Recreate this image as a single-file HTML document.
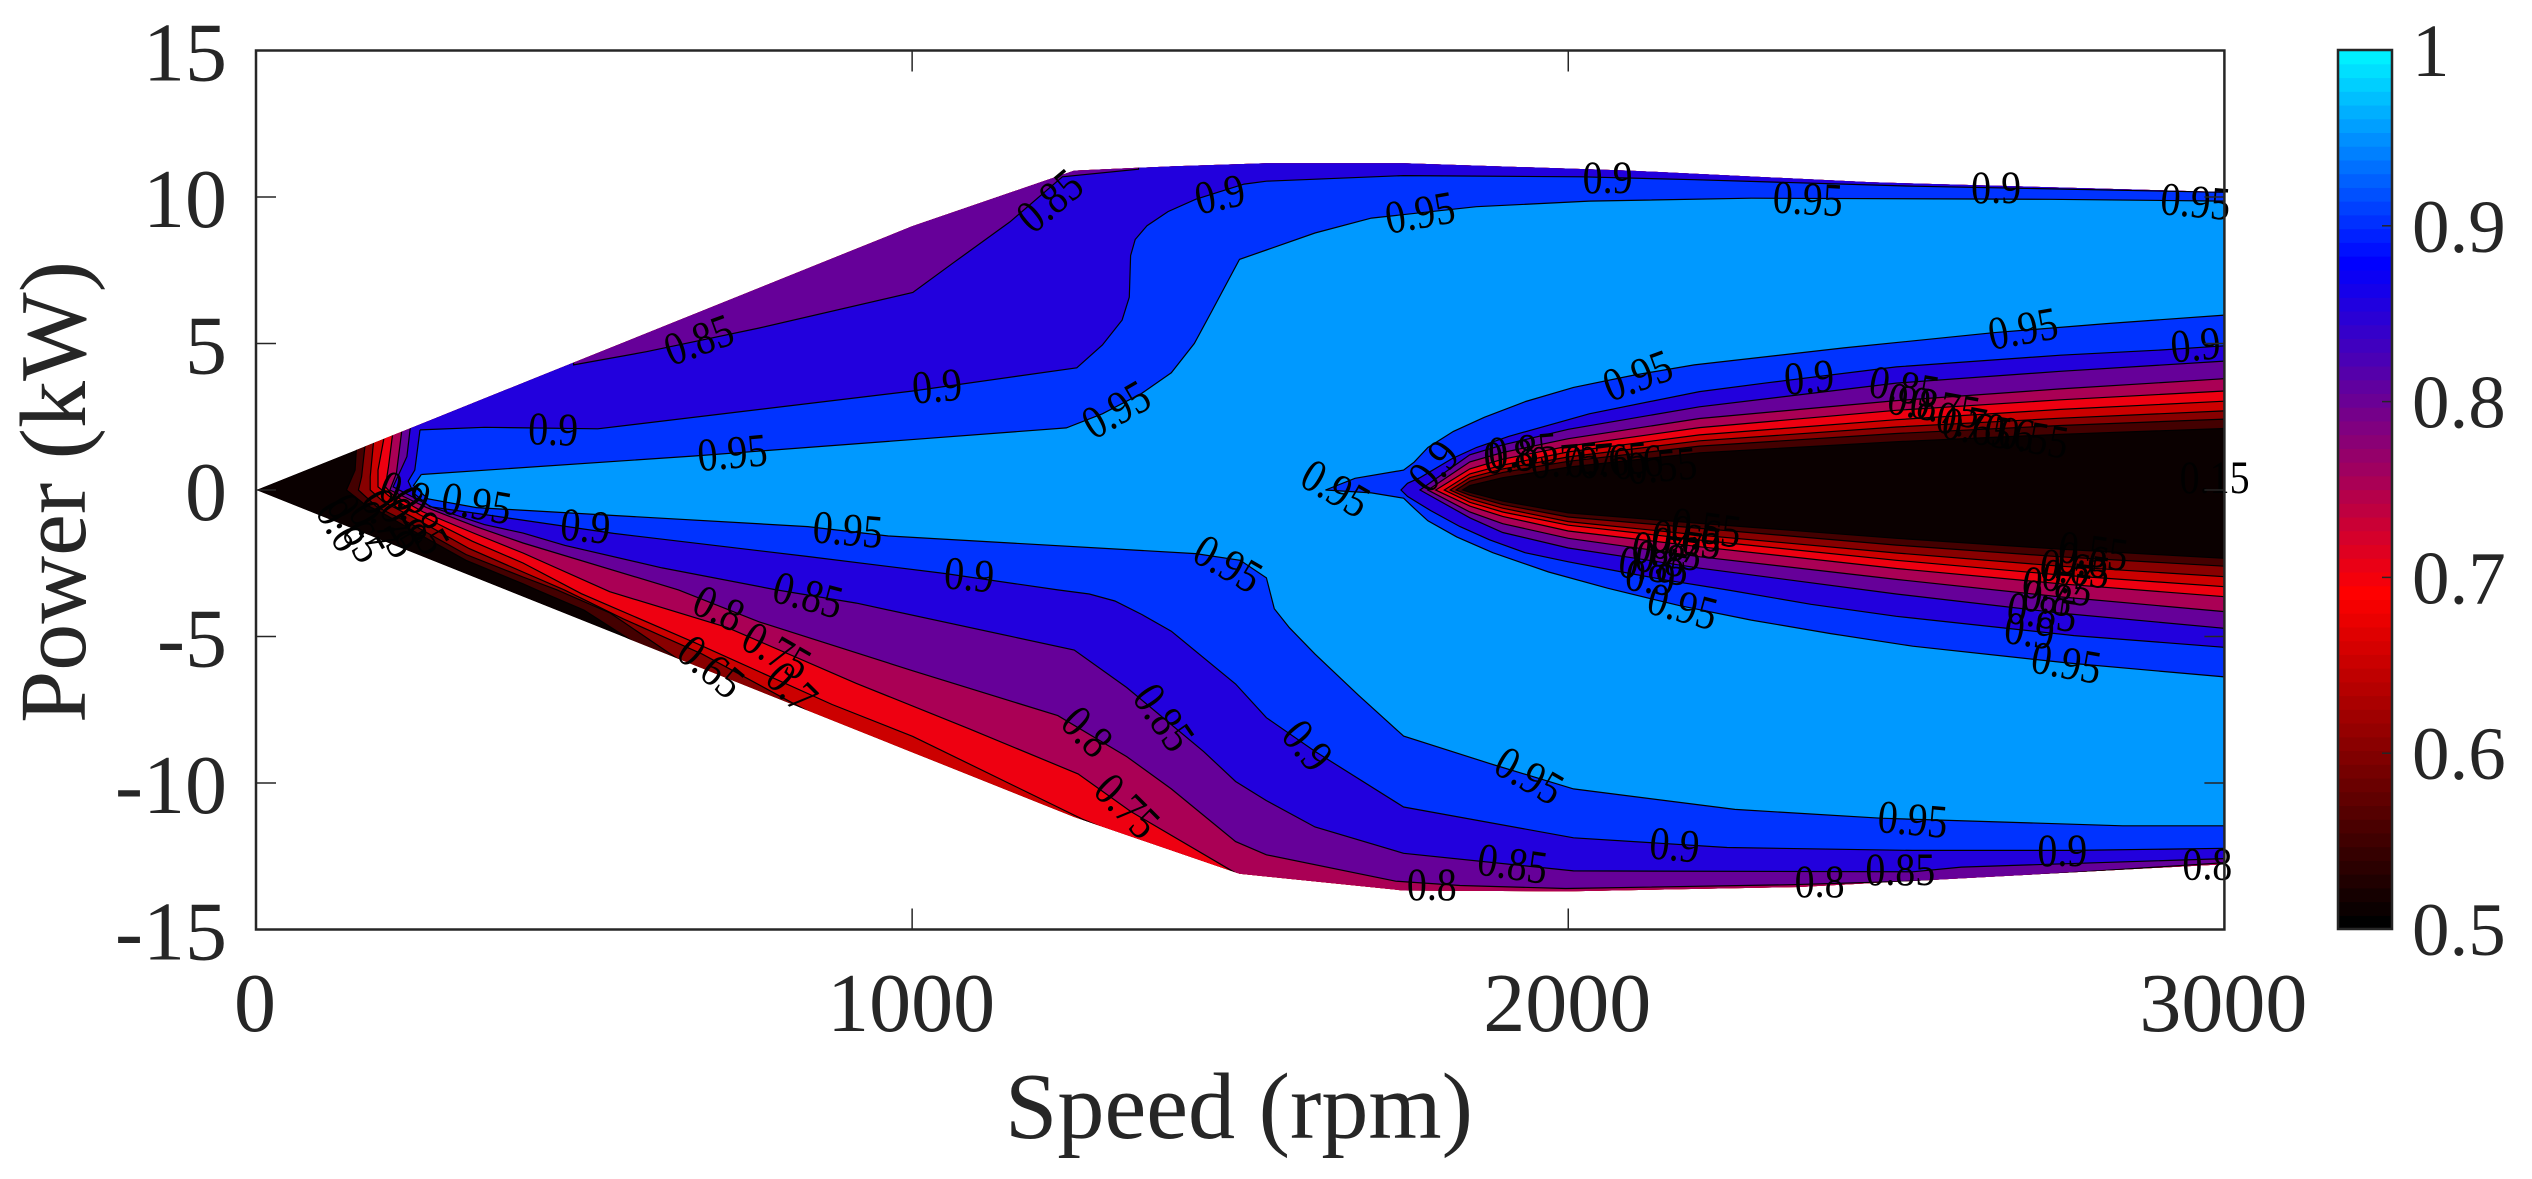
<!DOCTYPE html>
<html lang="en">
<head>
<meta charset="utf-8">
<title>Efficiency map: Power vs Speed</title>
<style>
html,body{margin:0;padding:0;background:#fff;}
svg{display:block;font-family:"Liberation Serif","Times New Roman",serif;}
</style>
</head>
<body>
<svg id="chart" xmlns="http://www.w3.org/2000/svg" width="2532" height="1179" viewBox="0 0 2532 1179">
<rect x="0" y="0" width="2532" height="1179" fill="#ffffff"/>
<defs><clipPath id="envelope-clip"><polygon id="envelope-shape" points="0,0"/></clipPath></defs>
<g id="fills" clip-path="url(#envelope-clip)"></g>
<g id="lines" clip-path="url(#envelope-clip)"></g>
<g id="labels"></g>
<g id="axes"></g>
<g id="colorbar"></g>
<text x="1239" y="1138" font-size="94" text-anchor="middle" fill="#262626" textLength="468" lengthAdjust="spacingAndGlyphs">Speed (rpm)</text>
<text transform="translate(85,492) rotate(-90)" font-size="94" text-anchor="middle" fill="#262626" textLength="462" lengthAdjust="spacingAndGlyphs">Power (kW)</text>
</svg>
<script>
// Axis tick values
const xTicks = [0, 1000, 2000, 3000];
const yTicks = [15, 10, 5, 0, -5, -10, -15];
const colorbarTicks = [1, 0.9, 0.8, 0.7, 0.6, 0.5];
const colorbarTickText = ['1', '0.9', '0.8', '0.7', '0.6', '0.5'];

// Operating envelope [rpm, kW]
const envelope = [[0,0],[240,2.15],[1000,9],[1247,10.9],[1400,11.05],[1540,11.15],[1750,11.15],[2093,10.9],[2462,10.5],[3000,10.17],[3000,-12.77],[2352,-13.55],[1996,-13.7],[1749,-13.67],[1499,-13.1],[1247,-11.16],[1000,-8.95],[0,0]];

// Contour level 0.55
const upper55 = [[153,16],[3000,16]];
const lower55 = [[153,16],[153,1.42],[151,0.68],[138,0],[164,-0.46],[194,-0.8],[240,-1.4],[320,-2.4],[407,-3.2],[428,-3.41],[500,-4.1],[580,-5.25],[580,-16],[3000,-16]];
const tongueTop55 = [[1839,0],[1850,0.15],[1900,0.42],[2000,0.78],[2200,1.27],[2500,1.65],[2750,1.9],[3000,2.1]];
const tongueBottom55 = [[1839,0],[1850,-0.08],[1900,-0.38],[2000,-0.78],[2201,-1.14],[2500,-1.65],[2750,-2.02],[3000,-2.33]];
// Contour level 0.6
const upper60 = [[166,16],[3000,16]];
const lower60 = [[166,16],[166,1.48],[161,0.45],[156,0],[184,-0.57],[240,-1.2],[320,-2.2],[407,-2.97],[459,-3.41],[540,-4.2],[644,-5.78],[644,-16],[3000,-16]];
const tongueTop60 = [[1829,0],[1850,0.3],[1900,0.6],[2000,0.98],[2200,1.5],[2500,1.93],[2750,2.2],[3000,2.42]];
const tongueBottom60 = [[1829,0],[1850,-0.18],[1900,-0.5],[2000,-0.92],[2201,-1.31],[2500,-1.88],[2750,-2.28],[3000,-2.6]];
// Contour level 0.65
const upper65 = [[179,16],[3000,16]];
const lower65 = [[179,16],[179,1.59],[174,0.45],[174,0],[194,-0.4],[245,-1],[325,-2],[407,-2.8],[470,-3.41],[560,-4.4],[680,-5.6],[841,-7.55],[841,-16],[3000,-16]];
const tongueTop65 = [[1820,0],[1850,0.42],[1900,0.72],[2000,1.13],[2200,1.68],[2500,2.15],[2750,2.45],[3000,2.7]];
const tongueBottom65 = [[1820,0],[1850,-0.3],[1900,-0.62],[2000,-1.08],[2201,-1.54],[2500,-2.15],[2750,-2.6],[3000,-2.96]];
// Contour level 0.7
const upper70 = [[195,16],[3000,16]];
const lower70 = [[195,16],[195,1.76],[186,0.68],[186,0.11],[204,-0.23],[250,-0.85],[330,-1.75],[407,-2.49],[496,-3.54],[668,-5.2],[878,-7.32],[1001,-8.41],[1259,-11.23],[1309,-11.7],[1309,-16],[3000,-16]];
const tongueTop70 = [[1811,0],[1850,0.55],[1900,0.85],[2000,1.3],[2200,1.88],[2500,2.4],[2750,2.75],[3000,3.03]];
const tongueBottom70 = [[1811,0],[1850,-0.42],[1900,-0.75],[2000,-1.2],[2201,-1.71],[2500,-2.4],[2750,-2.9],[3000,-3.3]];
// Contour level 0.75
const upper75 = [[208,16],[3000,16]];
const lower75 = [[208,16],[208,1.88],[202,0.8],[197,0.11],[209,-0.17],[255,-0.75],[335,-1.5],[407,-2.15],[539,-3.47],[718,-4.69],[915,-6.6],[1087,-8.15],[1253,-9.69],[1333,-10.97],[1499,-13.15],[1520,-13.4],[1520,-16],[3000,-16]];
const tongueTop75 = [[1798,0],[1850,0.72],[1900,1.05],[2000,1.5],[2200,2.13],[2500,2.72],[2750,3.08],[3000,3.38]];
const tongueBottom75 = [[1798,0],[1850,-0.55],[1900,-0.9],[2000,-1.4],[2201,-1.94],[2500,-2.68],[2750,-3.2],[3000,-3.64]];
// Contour level 0.8
const upper80 = [[222,16],[3000,16]];
const lower80 = [[222,16],[222,2],[214,0.57],[204,0],[260,-0.6],[335,-1.25],[407,-1.81],[644,-3.41],[767,-4.5],[1001,-6.17],[1222,-7.7],[1327,-9.1],[1395,-10.2],[1493,-12],[1540,-12.45],[1737,-13.35],[1835,-13.5],[1996,-13.6],[2340,-13.47],[2599,-13.3],[3000,-12.72]];
const tongueTop80 = [[1786,0],[1850,0.96],[1900,1.28],[2000,1.75],[2200,2.44],[2500,3.05],[2750,3.45],[3000,3.8]];
const tongueBottom80 = [[1786,0],[1850,-0.75],[1900,-1.15],[2000,-1.65],[2201,-2.28],[2500,-3.05],[2750,-3.65],[3000,-4.15]];
// Contour level 0.85
const upper85 = [[235,16],[478,16],[484,4.27],[595,4.72],[767,5.53],[1001,6.74],[1062,7.74],[1149,9.15],[1229,10.69],[1345,10.95],[1345,16],[3000,16]];
const lower85 = [[235,16],[235,2.1],[230,1.14],[209,0.11],[270,-0.6],[348,-1.18],[407,-1.47],[471,-1.89],[619,-2.66],[791,-3.4],[915,-3.86],[1247,-5.46],[1327,-6.74],[1444,-8.92],[1493,-9.95],[1540,-10.6],[1614,-11.5],[1749,-12.4],[2008,-13],[2525,-13.03],[2599,-12.87],[3000,-12.58]];
const tongueTop85 = [[1774,0],[1850,1.2],[1900,1.54],[2000,2.07],[2200,2.84],[2500,3.65],[2750,4.05],[3000,4.4]];
const tongueBottom85 = [[1774,0],[1850,-0.95],[1900,-1.45],[2000,-1.98],[2201,-2.67],[2500,-3.55],[2750,-4.2],[3000,-4.72]];
// Contour level 0.9
const upper90 = [[250,2.05],[348,2.14],[521,2.09],[1001,3.38],[1251,4.17],[1290,4.95],[1320,5.8],[1331,6.58],[1333,8],[1340,8.55],[1358,9.02],[1390,9.5],[1432,9.92],[1506,10.44],[1540,10.54],[1749,10.73],[2020,10.69],[2192,10.59],[2525,10.37],[3000,10.16]];
const lower90 = [[250,2.05],[242,0.68],[232,0.3],[240,-0.1],[265,-0.57],[336,-0.8],[545,-1.48],[841,-2.27],[1050,-2.85],[1222,-3.41],[1270,-3.55],[1309,-3.79],[1350,-4.25],[1395,-4.82],[1493,-6.62],[1540,-7.77],[1614,-8.92],[1749,-10.82],[2008,-11.87],[2242,-12.2],[2525,-12.3],[2771,-12.3],[3000,-12.23]];
const tongueTop90 = [[1745,0],[1755,0.23],[1774,0.42],[1823,1.07],[1860,1.45],[1909,1.83],[2032,2.6],[2200,3.36],[2303,3.66],[2500,4.2],[2750,4.6],[2906,4.78],[3000,4.92]];
const tongueBottom90 = [[1745,0],[1755,-0.22],[1790,-0.7],[1835,-1.25],[1880,-1.7],[1934,-2.14],[2000,-2.45],[2082,-2.8],[2150,-3.08],[2242,-3.41],[2370,-3.9],[2500,-4.31],[2771,-4.97],[3000,-5.37]];
// Contour level 0.95
const upper95 = [[252,0.53],[668,1.16],[1235,2.12],[1290,2.6],[1350,3.3],[1395,4],[1430,5],[1456,6.07],[1499,7.87],[1540,8.19],[1614,8.77],[1700,9.28],[1860,9.67],[2032,9.86],[2279,9.96],[2734,9.92],[3000,9.86]];
const lower95 = [[252,0.53],[240,0.15],[262,-0.3],[336,-0.6],[841,-1.25],[964,-1.57],[1432,-2.17],[1500,-2.4],[1540,-3],[1552,-4.05],[1575,-4.7],[1614,-5.6],[1680,-7],[1749,-8.4],[1885,-9.37],[2008,-10.2],[2254,-10.9],[2476,-11.2],[2845,-11.46],[3000,-11.46]];
const tongueTop95 = [[1630,0],[1675,0.4],[1749,0.68],[1765,0.95],[1786,1.45],[1825,2],[1872,2.48],[1935,3.02],[2008,3.5],[2100,3.92],[2192,4.27],[2420,4.85],[2648,5.37],[2820,5.68],[3000,5.97]];
const tongueBottom95 = [[1630,0],[1700,-0.1],[1749,-0.28],[1765,-0.62],[1786,-1.05],[1830,-1.6],[1885,-2.14],[1970,-2.8],[2060,-3.35],[2170,-3.95],[2279,-4.44],[2400,-4.9],[2525,-5.33],[2760,-5.9],[3000,-6.38]];

// Contour levels, painted low to high
const levelValues = [0.55, 0.6, 0.65, 0.7, 0.75, 0.8, 0.85, 0.9, 0.95];
const levelUppers = [upper55, upper60, upper65, upper70, upper75, upper80, upper85, upper90, upper95];
const levelLowers = [lower55, lower60, lower65, lower70, lower75, lower80, lower85, lower90, lower95];
const levelTongueTops = [tongueTop55, tongueTop60, tongueTop65, tongueTop70, tongueTop75, tongueTop80, tongueTop85, tongueTop90, tongueTop95];
const levelTongueBottoms = [tongueBottom55, tongueBottom60, tongueBottom65, tongueBottom70, tongueBottom75, tongueBottom80, tongueBottom85, tongueBottom90, tongueBottom95];

// Inline contour labels: text, rpm, kW, rotation
const labelText = ['0.85','0.85','0.9','0.9','0.95','0.95','0.9','0.95','0.9','0.95','0.9','0.95','0.95','0.9','0.95','0.9','0.85','0.8','0.75','0.7','0.65','0.6','0.55','0.85','0.8','0.75','0.7','0.65','0.6','0.55','0.9','0.95','0.95','0.9','0.85','0.8','0.75','0.7','0.65','0.6','0.55','0.9','0.85','0.8','0.75','0.7','0.65','0.6','0.55','0.95','0.95','0.9','0.95','0.9','0.95','0.85','0.8','0.75','0.65','0.7','0.85','0.8','0.75','0.9','0.95','0.95','0.9','0.9','0.85','0.8','0.8','0.85','0.8','0.15','0.9','0.85','0.8','0.75','0.7','0.65','0.6'];
const labelRpm = [1210,675,453,1038,726,1311,1469,1774,2060,2365,2652,2956,2693,2956,2106,2367,2512,2525,2574,2599,2623,2672,2709,1931,1909,1995,2032,2069,2106,2143,1795,1645,2174,2125,2130,2140,2150,2165,2180,2195,2210,2703,2722,2730,2745,2760,2772,2785,2800,2759,902,502,336,1087,1481,841,705,793,693,816,1383,1266,1327,1602,1940,2525,2162,2753,1915,1792,2383,2506,2974,2985,227,250,225,204,178,152,128];
const labelKw = [9.86,5.11,2.05,3.53,1.26,2.73,10.08,9.45,10.65,9.92,10.31,9.83,5.49,4.94,3.89,3.83,3.5,2.99,2.8,2.35,2.09,1.96,1.77,1.32,1.13,1,1,1,0.94,0.81,0.81,0.04,-3.99,-3,-2.6,-2.35,-2.1,-1.9,-1.7,-1.5,-1.3,-4.82,-4.18,-3.7,-3.3,-3,-2.7,-2.4,-2.1,-5.91,-1.37,-1.25,-0.47,-2.91,-2.53,-3.6,-4.05,-5.5,-6.04,-6.74,-7.77,-8.26,-10.8,-8.73,-9.76,-11.26,-12.13,-12.32,-12.77,-13.47,-13.38,-12.96,-12.77,0.42,-0.11,-1.03,-1.14,-1.14,-1.25,-1.3,-1.2];
const labelAngle = [-40,-20,2,-5,-5,-30,-12,-10,0,3,0,5,-10,-5,-20,-5,10,10,10,10,10,10,10,-5,-5,-5,-5,-5,-5,-5,-50,30,15,8,8,8,8,8,8,8,8,8,8,8,8,8,8,8,8,10,5,5,10,5,30,15,25,30,40,45,55,45,45,50,30,5,5,0,8,0,0,0,0,0,20,60,60,60,60,60,60];

const SVG_NS = 'http://www.w3.org/2000/svg';
const xScale = rpm => 256 + rpm * 1968.4 / 3000;
const yScale = kw => 490 - kw * 29.3;
const colorbarY = v => 50 + (1 - v) * 2 * 879;
const toPoints = pts => pts.map(p => xScale(p[0]).toFixed(1) + ',' + yScale(p[1]).toFixed(1)).join(' ');

function colormap(v) {
  let r = 0, g = 0, b = 0;
  if (v <= 0.6875) { r = (v - 0.5) / 0.1875 * 255; }
  else if (v <= 0.875) { const t = (v - 0.6875) / 0.1875; r = (1 - t) * 255; b = t * 255; }
  else { const t = (v - 0.875) / 0.125; g = t * 255; b = 255; }
  return 'rgb(' + Math.round(r) + ',' + Math.round(g) + ',' + Math.round(b) + ')';
}
function make(tag, attrs, parent) {
  const el = document.createElementNS(SVG_NS, tag);
  for (const k in attrs) el.setAttribute(k, attrs[k]);
  parent.appendChild(el);
  return el;
}

const fillsG = document.getElementById('fills');
const linesG = document.getElementById('lines');
const labelsG = document.getElementById('labels');
const axesG = document.getElementById('axes');
const colorbarG = document.getElementById('colorbar');

document.getElementById('envelope-shape').setAttribute('points', toPoints(envelope));

const baseFill = make('polygon', {points: toPoints(envelope), fill: '#0a0000'}, fillsG);



levelValues.forEach((level, i) => {
  const up = levelUppers[i], low = levelLowers[i], tTop = levelTongueTops[i], tBot = levelTongueBottoms[i];
  const outline = up.concat(tTop.slice().reverse(), tBot.slice(1), low.slice().reverse());
  const band = make('polygon', {points: toPoints(outline), fill: colormap(level)}, fillsG);
  
  
  [up, low, tTop.slice().reverse().concat(tBot.slice(1))].forEach(path => {
    const line = make('polyline', {points: toPoints(path), fill: 'none', stroke: '#000', 'stroke-width': 1.2}, linesG);
    
    
  });
});

labelText.forEach((txt, i) => {
  const px = xScale(labelRpm[i]).toFixed(1), py = yScale(labelKw[i]).toFixed(1);
  const t = make('text', {'font-size': 47, 'text-anchor': 'middle', 'dominant-baseline': 'central', fill: '#000', transform: 'translate(' + px + ' ' + py + ') rotate(' + labelAngle[i] + ') scale(0.85 1)'}, labelsG);
  t.textContent = txt;
  
  
});

const ink = '#262626';
const frame = make('rect', {x: xScale(0), y: yScale(15), width: xScale(3000) - xScale(0), height: yScale(-15) - yScale(15), fill: 'none', stroke: ink, 'stroke-width': 2.5}, axesG);



xTicks.forEach(v => {
  const px = xScale(v);
  const tickB = make('line', {x1: px, x2: px, y1: yScale(-15), y2: yScale(-15) - 21, stroke: ink, 'stroke-width': 1.5}, axesG);
  
  
  const tickT = make('line', {x1: px, x2: px, y1: yScale(15), y2: yScale(15) + 21, stroke: ink, 'stroke-width': 1.5}, axesG);
  
  
  const lbl = make('text', {x: px - 1, y: 1031, 'font-size': 84, 'text-anchor': 'middle', fill: ink}, axesG);
  lbl.textContent = String(v);
  
  
});
yTicks.forEach(v => {
  const py = yScale(v);
  const tickL = make('line', {x1: xScale(0), x2: xScale(0) + 20, y1: py, y2: py, stroke: ink, 'stroke-width': 1.5}, axesG);
  
  
  const tickR = make('line', {x1: xScale(3000), x2: xScale(3000) - 20, y1: py, y2: py, stroke: ink, 'stroke-width': 1.5}, axesG);
  
  
  const lbl = make('text', {x: 227, y: py + 30, 'font-size': 84, 'text-anchor': 'end', fill: ink}, axesG);
  lbl.textContent = String(v);
  
  
});

const colorSteps = 64;
for (let i = 0; i < colorSteps; i++) {
  const vLow = 0.5 + i * 0.5 / colorSteps;
  const vHigh = vLow + 0.5 / colorSteps;
  const cell = make('rect', {x: 2338, width: 54, y: colorbarY(vHigh), height: colorbarY(vLow) - colorbarY(vHigh) + 0.6, fill: colormap(vLow)}, colorbarG);
  
  
}
const cbFrame = make('rect', {x: 2338, y: 50, width: 54, height: 879, fill: 'none', stroke: ink, 'stroke-width': 2.5}, colorbarG);


colorbarTicks.forEach((v, i) => {
  const py = colorbarY(v);
  const tick = make('line', {x1: 2392, x2: 2382, y1: py, y2: py, stroke: ink, 'stroke-width': 1.5}, colorbarG);
  
  
  const lbl = make('text', {x: 2412, y: py + 26, 'font-size': 75, fill: ink}, colorbarG);
  lbl.textContent = colorbarTickText[i];
  
  
});
</script>
</body>
</html>
